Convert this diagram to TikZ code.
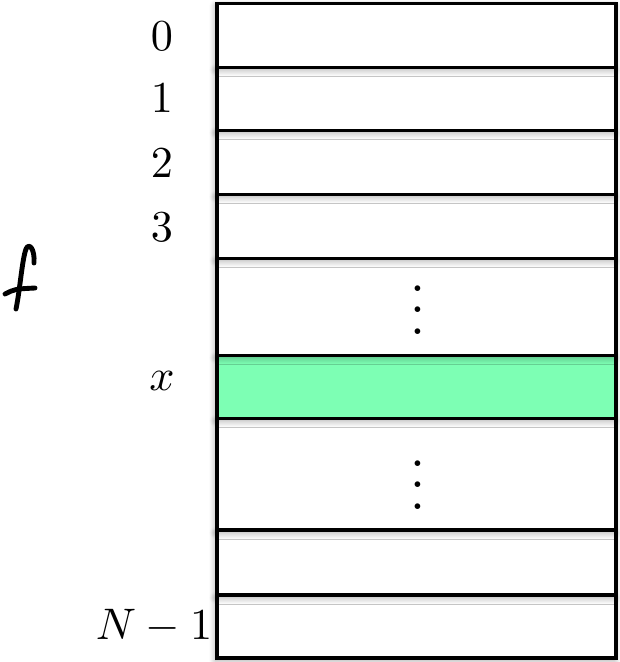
\documentclass[tikz,border=0pt]{standalone}
\usepackage{xcolor}
\usepackage{tikz}
\usetikzlibrary{shapes,positioning,shadows.blur}
\definecolor{cellGreen}{RGB}{125, 255, 180}
\def\px{0.215pt}

\begin{document}
\begin{tikzpicture}[x=\px, y=-\px, thick]
    \tikzstyle{cell} = [rectangle, draw, fill=white, line width=0.65pt, minimum width=399*\px, inner sep=0pt, outer sep=0pt, blur shadow={shadow xshift=-0.3pt, shadow yshift=-0.6pt, shadow blur radius=1.4pt, shadow blur steps=14, shadow opacity=35}]
    \tikzstyle{idx} = [inner sep=0pt, scale=0.95]
    \tikzstyle{gap} = [scale=1.15]
    \useasboundingbox (0,0) rectangle (619,662);

    % cells, drawn bottom to top
    \node [cell, minimum height=63*\px, anchor=south west] (last) at (217,658) {};
    \node [cell, minimum height=65*\px, above=0pt of last] (blank) {};
    \node [cell, minimum height=112*\px, above=0pt of blank] (dotsB) {};
    \node [cell, fill=cellGreen, minimum height=63*\px, above=0pt of dotsB] (rx) {};
    \node [cell, minimum height=97*\px, above=0pt of rx] (dotsA) {};
    \node [cell, minimum height=64*\px, above=0pt of dotsA] (r3) {};
    \node [cell, minimum height=64*\px, above=0pt of r3] (r2) {};
    \node [cell, minimum height=63*\px, above=0pt of r2] (r1) {};
    \node [cell, minimum height=64*\px, above=0pt of r1] (r0) {};

    \node [gap] (vdA) at (418,294) {$\vdots$};
    \node [gap] (vdB) at (418,469) {$\vdots$};

    % indices
    \node [idx] (l0) at (162,36) {$0$};
    \node [idx] (l1) at (162,98) {$1$};
    \node [idx] (l2) at (162,163) {$2$};
    \node [idx] (l3) at (162,227) {$3$};
    \node [idx] (lx) at (162,381) {$x$};
    \node [idx, anchor=east] (lN) at (214,626) {$N-1$};

    % the handwritten f
    \draw [line width=1.05pt, line cap=round, line join=round]
        (34,263) .. controls (35,249) and (29,242) .. (26,249)
        .. controls (22,260) and (20,290) .. (16,309);
    \draw [line width=1.05pt, line cap=round] (5,294) .. controls (15,289) .. (35,288);
\end{tikzpicture}
\end{document}
